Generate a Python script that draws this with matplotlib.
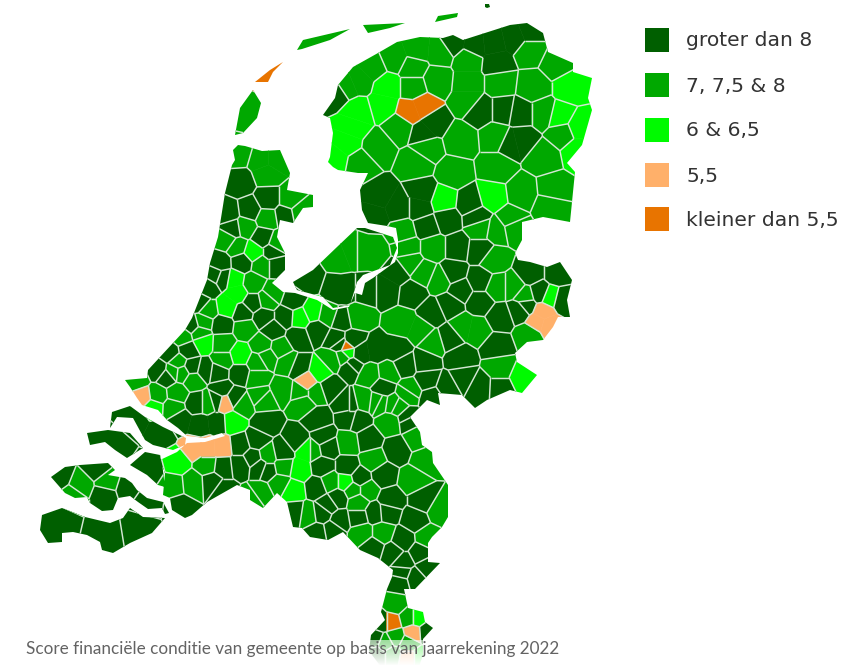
import numpy as np
import matplotlib
matplotlib.use("Agg")
import matplotlib.pyplot as plt
from matplotlib.collections import LineCollection
from matplotlib.path import Path
from matplotlib.patches import PathPatch, Polygon, Rectangle

# Legend classes
class_labels = ["groter dan 8", "7, 7,5 & 8", "6 & 6,5", "5,5", "kleiner dan 5,5"]
class_colors = ["#005f00", "#00a800", "#00fa00", "#ffb06a", "#e87400"]
caption = "Score financiële conditie van gemeente op basis van jaarrekening 2022"

# Land outlines (image pixel space)
mainland = [(238,145),(245,146),(262,151),(280,150),(290,173),(287,190),(313,195),(313,207),(303,208),(293,223),(280,220),(277,237),(285,253),(285,270),(272,283),(283,292),(295,293),(317,300),(333,310),(349,307),(355,293),(362,295),(365,283),(373,278),(395,262),(398,253),(398,240),(396,228),(387,226),(368,223),(362,210),(360,190),(368,173),(358,173),(338,170),(333,167),(328,162),(330,157),(333,133),(330,118),(323,115),(335,98),(338,85),(353,67),(378,53),(397,42),(420,37),(443,38),(453,35),(463,40),(510,25),(527,23),(543,33),(548,52),(573,63),(573,72),(592,78),(588,98),(592,110),(582,145),(567,163),(575,172),(570,222),(543,217),(522,222),(522,240),(515,253),(518,260),(530,262),(547,267),(560,262),(572,280),(567,300),(570,317),(558,317),(553,327),(543,340),(527,342),(515,353),(517,362),(537,375),(522,393),(510,390),(487,400),(475,408),(462,395),(438,393),(440,405),(427,400),(415,412),(410,417),(420,432),(422,445),(432,452),(433,463),(448,485),(448,517),(442,527),(432,537),(428,543),(428,562),(440,563),(415,589),(404,589),(408,608),(423,612),(425,622),(433,628),(423,639),(423,655),(417,672),(385,672),(369,651),(371,635),(385,620),(381,612),(387,589),(392,577),(393,570),(378,558),(360,550),(343,532),(328,540),(310,537),(302,528),(293,527),(287,502),(277,493),(263,508),(250,500),(250,490),(237,485),(207,502),(192,515),(185,518),(172,510),(170,498),(163,495),(165,473),(160,460),(177,452),(187,443),(205,442),(225,436),(222,433),(205,438),(187,436),(178,428),(167,420),(158,410),(142,405),(137,398),(130,387),(125,380),(147,378),(148,370),(160,357),(185,330),(192,318),(207,280),(210,263),(218,237),(225,193),(232,165),(235,160),(233,150)]
flevoland = [(293,282),(313,270),(337,247),(357,228),(365,228),(393,237),(397,248),(390,265),(363,275),(357,282),(350,305),(333,308),(323,297),(297,290)]
goeree = [(112,412),(130,406),(145,417),(163,427),(186,438),(185,445),(173,450),(153,445),(145,440),(133,418),(117,417),(110,428)]
schouwen = [(87,433),(108,430),(130,433),(143,448),(127,458),(115,450),(105,442),(90,445)]
tholen = [(130,465),(145,452),(160,455),(162,463),(165,487),(158,485),(147,475)]
walcheren = [(51,477),(65,467),(80,465),(108,463),(115,470),(108,475),(125,478),(132,483),(137,490),(147,498),(163,502),(169,513),(165,514),(162,508),(148,509),(138,502),(130,496),(118,498),(113,510),(102,511),(90,503),(87,497),(75,498),(65,493),(58,485)]
zeeuws_vlaanderen = [(42,515),(62,508),(85,517),(110,523),(123,518),(130,508),(143,517),(165,518),(152,533),(130,543),(113,553),(102,550),(100,542),(87,535),(73,532),(62,533),(62,542),(48,543),(40,530)]
texel = [(235,135),(240,108),(253,90),(261,103),(257,118),(243,133)]
vlieland = [(255,82),(270,70),(283,62),(273,72),(268,82)]
terschelling = [(297,50),(303,40),(350,29),(330,40),(302,49)]
ameland = [(363,25),(405,23),(390,28),(368,33)]
schiermonnikoog = [(435,22),(438,16),(458,13),(457,17)]
rottum = [(485,4),(489,4),(490,7),(487,8),(485,7)]
land_parts = [mainland, flevoland, goeree, schouwen, tholen, walcheren, zeeuws_vlaanderen,
              texel, vlieland, terschelling, ameland, schiermonnikoog, rottum]

# Municipalities per score class.
# An entry is one location, or a list of locations for a large or long municipality.
dark_towns = [(337,92),[(453,43),(475,45),(493,43),(515,38),(530,32),(497,63)],(480,110),(503,110),(520,113),[(522,140),(510,143)],[(433,123),(423,133)],
 [(380,197),(397,207),(375,215)],[(423,193),(420,207)],(470,203),(447,220),(427,227),(477,218),(457,247),(480,250),(453,273),(460,290),(480,280),
 (530,273),(557,273),(562,300),(540,293),(526,305),[(387,290),(397,273)],(365,290),(412,293),(450,305),(480,302),(500,317),(520,310),
 (432,313),(497,347),(460,358),[(377,350),(397,350),(360,353)],(450,338),(425,362),(405,365),(352,365),(383,387),(427,380),(447,387),
 (480,387),(500,388),(463,378),(432,397),(350,403),(408,420),(357,420),(240,183),(228,213),(268,200),(250,210),(285,215),(233,229),
 (263,238),(272,252),(242,262),(220,263),(275,265),(215,275),(223,278),(208,287),(253,303),(293,300),(200,303),(192,325),(222,325),
 (243,313),(263,317),(285,317),(342,320),(317,330),(337,340),(273,330),(298,337),(170,353),(188,350),(298,367),(350,367),(158,370),
 (192,367),(205,370),(218,372),(240,373),(307,280),[(337,290),(345,290)],(167,377),(197,403),(217,400),(222,390),(234,398),[(200,425),(180,420),(217,423)],
 (212,482),(223,467),(240,445),(240,465),(253,458),(268,470),(257,440),(223,490),(330,387),(265,423),(317,420),(323,437),
 (347,403),(350,418),(407,418),(282,452),(297,440),(328,447),(368,440),(397,450),(260,467),(322,467),(347,467),(383,475),(373,547),
 (360,478),(317,487),(390,500),(338,498),(423,500),(295,513),(322,513),(328,505),(340,520),(358,517),(375,513),(387,512),(317,533),
 (333,530),(415,520),(403,540),(393,553),(420,553),(403,562),(427,567),(402,573),(400,582),(415,578),(381,622),(375,639),(427,632),
 (377,655),(113,445),[(135,420),(160,432)],(150,470),(60,477),(97,468),(105,495),(127,488),(147,502),(60,523),(103,533),(140,527),
 (180,507),(487,6),(340,344),(352,341)]
mid_towns = [[(360,80),(372,68),(346,86)],[(417,50),(395,58),(440,52)],(413,67),(413,87),(437,80),[(468,60),(468,83),(468,100)],(530,50),(557,63),(500,83),(533,87),(543,113),(563,133),
 (497,137),(543,157),(553,190),(522,193),(497,167),(460,140),(400,127),(427,148),(377,147),(360,163),(417,163),(453,173),(513,227),
 (480,227),(403,233),[(340,257),(350,253)],[(373,253),(363,253)],(407,247),(497,230),(510,220),(550,205),(433,247),(410,263),(423,273),(440,280),(497,287),
 (513,287),(493,260),(525,297),[(403,323),(420,330)],[(463,327),(477,330)],(530,335),(433,343),(500,367),(388,373),(370,375),(410,390),
 (378,402),(397,407),(238,153),[(267,173),(262,160),(275,160)],(290,200),(300,212),(267,218),(245,227),(227,240),(237,247),(277,243),(262,265),(253,283),
 (208,310),(273,293),(267,300),(203,322),(327,315),(357,317),(183,337),(200,333),(223,343),(245,328),(262,345),(280,348),(223,360),
 (257,363),(267,357),(288,363),(333,360),(178,362),(173,372),(182,373),(137,380),(157,395),(173,408),(177,393),
 (193,380),(207,403),(243,405),(263,400),(257,377),(207,465),(173,485),(193,483),(260,397),(283,390),(303,403),(300,392),(315,392),(363,400),(380,403),
 (393,405),(408,393),(390,422),(268,455),(312,450),(348,443),(417,438),(425,460),(283,467),(373,460),(330,482),(280,483),(260,493),
 (353,490),(367,490),(413,480),(440,510),(308,515),(358,502),(362,533),(382,533),(427,538),(396,605),(408,618),(396,637),(408,643),
 (385,643),(392,655),(80,485),(108,482),(73,495),(247,112),(325,40),(385,27),(447,17),(253,498),(343,357)]
bright_towns = [[(387,87),(383,105)],(570,87),[(578,127),(578,150)],(560,117),[(353,127),(347,143),(335,158),(358,112)],(443,200),(492,197),(550,297),
 (523,377),(348,352),(253,252),[(234,280),(227,307),(237,293)],(300,318),(313,312),(203,342),(240,355),(320,372),(153,407),(233,422),
 (177,463),[(307,450),(300,470)],(345,482),(293,490),(417,618),(419,658)]
light_orange_towns = [[(543,312),(548,325),(538,322)],(143,397),(225,402),(307,382),[(195,448),(207,448),(222,447)],(413,633),(408,658)]
orange_towns = [[(423,107),(410,112)],(347,347),(268,75),(392,622)]
towns_by_class = [dark_towns, mid_towns, bright_towns, light_orange_towns, orange_towns]


def clip_halfplane(poly, p, q):
    """Keep the part of a convex polygon that is closer to p than to q."""
    mid, normal = (p + q) / 2, q - p
    out = []
    for i in range(len(poly)):
        a, b = poly[i], poly[(i + 1) % len(poly)]
        da, db = np.dot(a - mid, normal), np.dot(b - mid, normal)
        if da <= 0:
            out.append(a)
        if da * db < 0:
            out.append(a + (b - a) * da / (da - db))
    return out


pts, classes, groups = [], [], []
for c, towns in enumerate(towns_by_class):
    for town in towns:
        for loc in (town if isinstance(town, list) else [town]):
            pts.append(loc)
            classes.append(c)
            groups.append(len(groups) and (groups[-1] + 1 if loc is (town if isinstance(town, list) else [town])[0] else groups[-1]))
pts = np.array(pts, float)

fig = plt.figure(figsize=(8.46, 6.66), dpi=100)
ax = fig.add_axes([0, 0, 1, 1])
ax.set_xlim(0, 846)
ax.set_ylim(666, 0)
ax.axis("off")

verts, codes = [], []
for part in land_parts:
    verts += list(part) + [part[0]]
    codes += [Path.MOVETO] + [Path.LINETO] * (len(part) - 1) + [Path.CLOSEPOLY]
land = PathPatch(Path(verts, codes), fc="none", ec="none", transform=ax.transData)
ax.add_patch(land)

box = [np.array(v, float) for v in [(0, 0), (700, 0), (700, 700), (0, 700)]]
segments = []
for i, p in enumerate(pts):
    cell = box
    dist = ((pts - p) ** 2).sum(axis=1)
    for j in np.argsort(dist)[1:80]:
        if np.allclose(pts[j], p):
            continue
        cell = clip_halfplane(cell, p, pts[j])
        if len(cell) < 3:
            break
    if len(cell) < 3:
        continue
    color = class_colors[classes[i]]
    poly = Polygon(np.array(cell), closed=True, fc=color, ec=color, lw=0.4)
    ax.add_patch(poly)
    poly.set_clip_path(land)
    for k in range(len(cell)):
        a, b = cell[k], cell[(k + 1) % len(cell)]
        m = (a + b) / 2
        d = ((pts - m) ** 2).sum(axis=1)
        d[i] = np.inf
        j = int(np.argmin(d))
        if j > i and groups[j] != groups[i]:
            segments.append([a, b])

borders = LineCollection(segments, colors="#d4e6d4", linewidths=1.05, zorder=3)
ax.add_collection(borders)
borders.set_clip_path(land)

# White fade at the bottom of the map, behind the caption
fade = np.ones((26, 2, 4))
fade[..., 3] = np.linspace(0.62, 1.0, 26)[:, None]
ax.imshow(fade, extent=(340, 450, 666, 640), aspect="auto", zorder=5)
ax.set_xlim(0, 846)
ax.set_ylim(666, 0)

ax.text(26, 649, caption, family="Lato", fontsize=12.37, color="#636363", va="center", ha="left", zorder=6)

legend_tops = [28, 73, 118, 163, 207]
for top, label, color in zip(legend_tops, class_labels, class_colors):
    ax.add_patch(Rectangle((645, top), 24, 24, fc=color, ec="none"))
    ax.text(686, top + 13, label, family="DejaVu Sans", fontsize=14.6, color="#333333", va="center", ha="left")

fig.savefig("out.png", dpi=100, facecolor="white")
